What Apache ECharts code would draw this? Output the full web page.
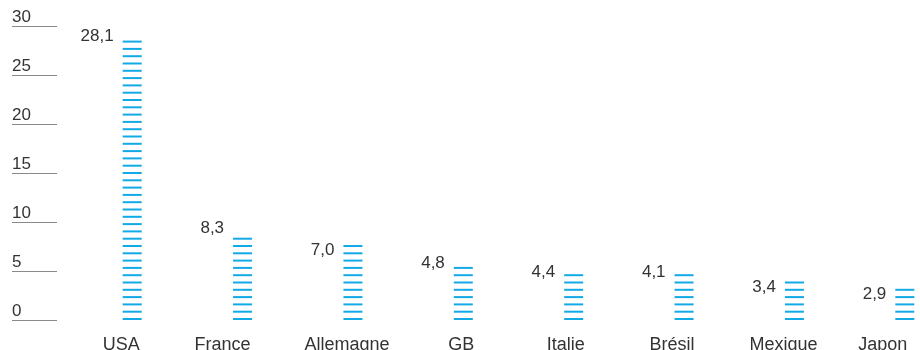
<!DOCTYPE html>
<html><head><meta charset="utf-8">
<script src="https://cdn.jsdelivr.net/npm/echarts@6/dist/echarts.min.js"></script>
<style>html,body{margin:0;padding:0;background:#fff}#c{width:920px;height:350px}</style>
</head><body><div id="c"></div>
<script>
const categories = ['USA', 'France', 'Allemagne', 'GB', 'Italie', 'Brésil', 'Mexique', 'Japon'];
const values = [28.1, 8.3, 7.0, 4.8, 4.4, 4.1, 3.4, 2.9];
const yTicks = [0, 5, 10, 15, 20, 25, 30];
// fine nudges (px) of category labels and value labels, as in the reference
const labelShift = [3, -6, 8, 12, 6, 2, 3, -8];
const valueLabelDy = [0, -5, 9, 0, 2, 2, 10, 10];

const FONT = 'Liberation Sans, Arial, sans-serif';
const catData = categories.map((c, i) => {
  const d = labelShift[i];
  return {value: c, textStyle: {padding: d >= 0 ? [0, 0, 0, 2 * d] : [0, -2 * d, 0, 0]}};
});
const barData = values.map((v, i) => ({value: v, label: {position: [5, -4 + valueLabelDy[i]]}}));
const chart = echarts.init(document.getElementById('c'), null, {renderer: 'canvas'});
chart.setOption({
  animation: false,
  grid: [
    {left: 12, width: 45, top: 26, bottom: 30, outerBoundsMode: 'none', containLabel: false},
    {left: 63, width: 883, top: 26, bottom: 30, outerBoundsMode: 'none', containLabel: false}
  ],
  xAxis: [
    {gridIndex: 0, type: 'value', show: false},
    {gridIndex: 1, type: 'category', data: catData,
     axisLine: {show: false}, axisTick: {show: false},
     axisLabel: {interval: 0, hideOverlap: false, color: '#333', fontSize: 18, fontFamily: FONT, margin: 16}}
  ],
  yAxis: [
    {gridIndex: 0, type: 'value', min: yTicks[0], max: yTicks[yTicks.length - 1], interval: 5,
     axisLine: {show: false}, axisTick: {show: false},
     splitLine: {lineStyle: {color: '#8a8a8a', width: 1}},
     axisLabel: {inside: true, align: 'left', verticalAlign: 'bottom', margin: 0,
       padding: 0, color: '#333', fontSize: 17, fontFamily: FONT,
       formatter: v => String(v)}},
    {gridIndex: 1, type: 'value', min: yTicks[0], max: yTicks[yTicks.length - 1], interval: 5, show: false}
  ],
  series: [{
    type: 'pictorialBar',
    xAxisIndex: 1, yAxisIndex: 1,
    data: barData,
    barWidth: 19,
    symbol: 'rect',
    symbolSize: [19, 2],
    symbolRepeat: true,
    symbolMargin: 2.65,
    symbolOffset: [14, 0],
    itemStyle: {color: '#12aae6'},
    label: {
      show: true, position: [5, -4], align: 'right', verticalAlign: 'middle',
      color: '#333', fontSize: 17, fontFamily: FONT,
      formatter: p => p.value.toFixed(1).replace('.', ',')
    }
  }]
});
</script></body></html>
